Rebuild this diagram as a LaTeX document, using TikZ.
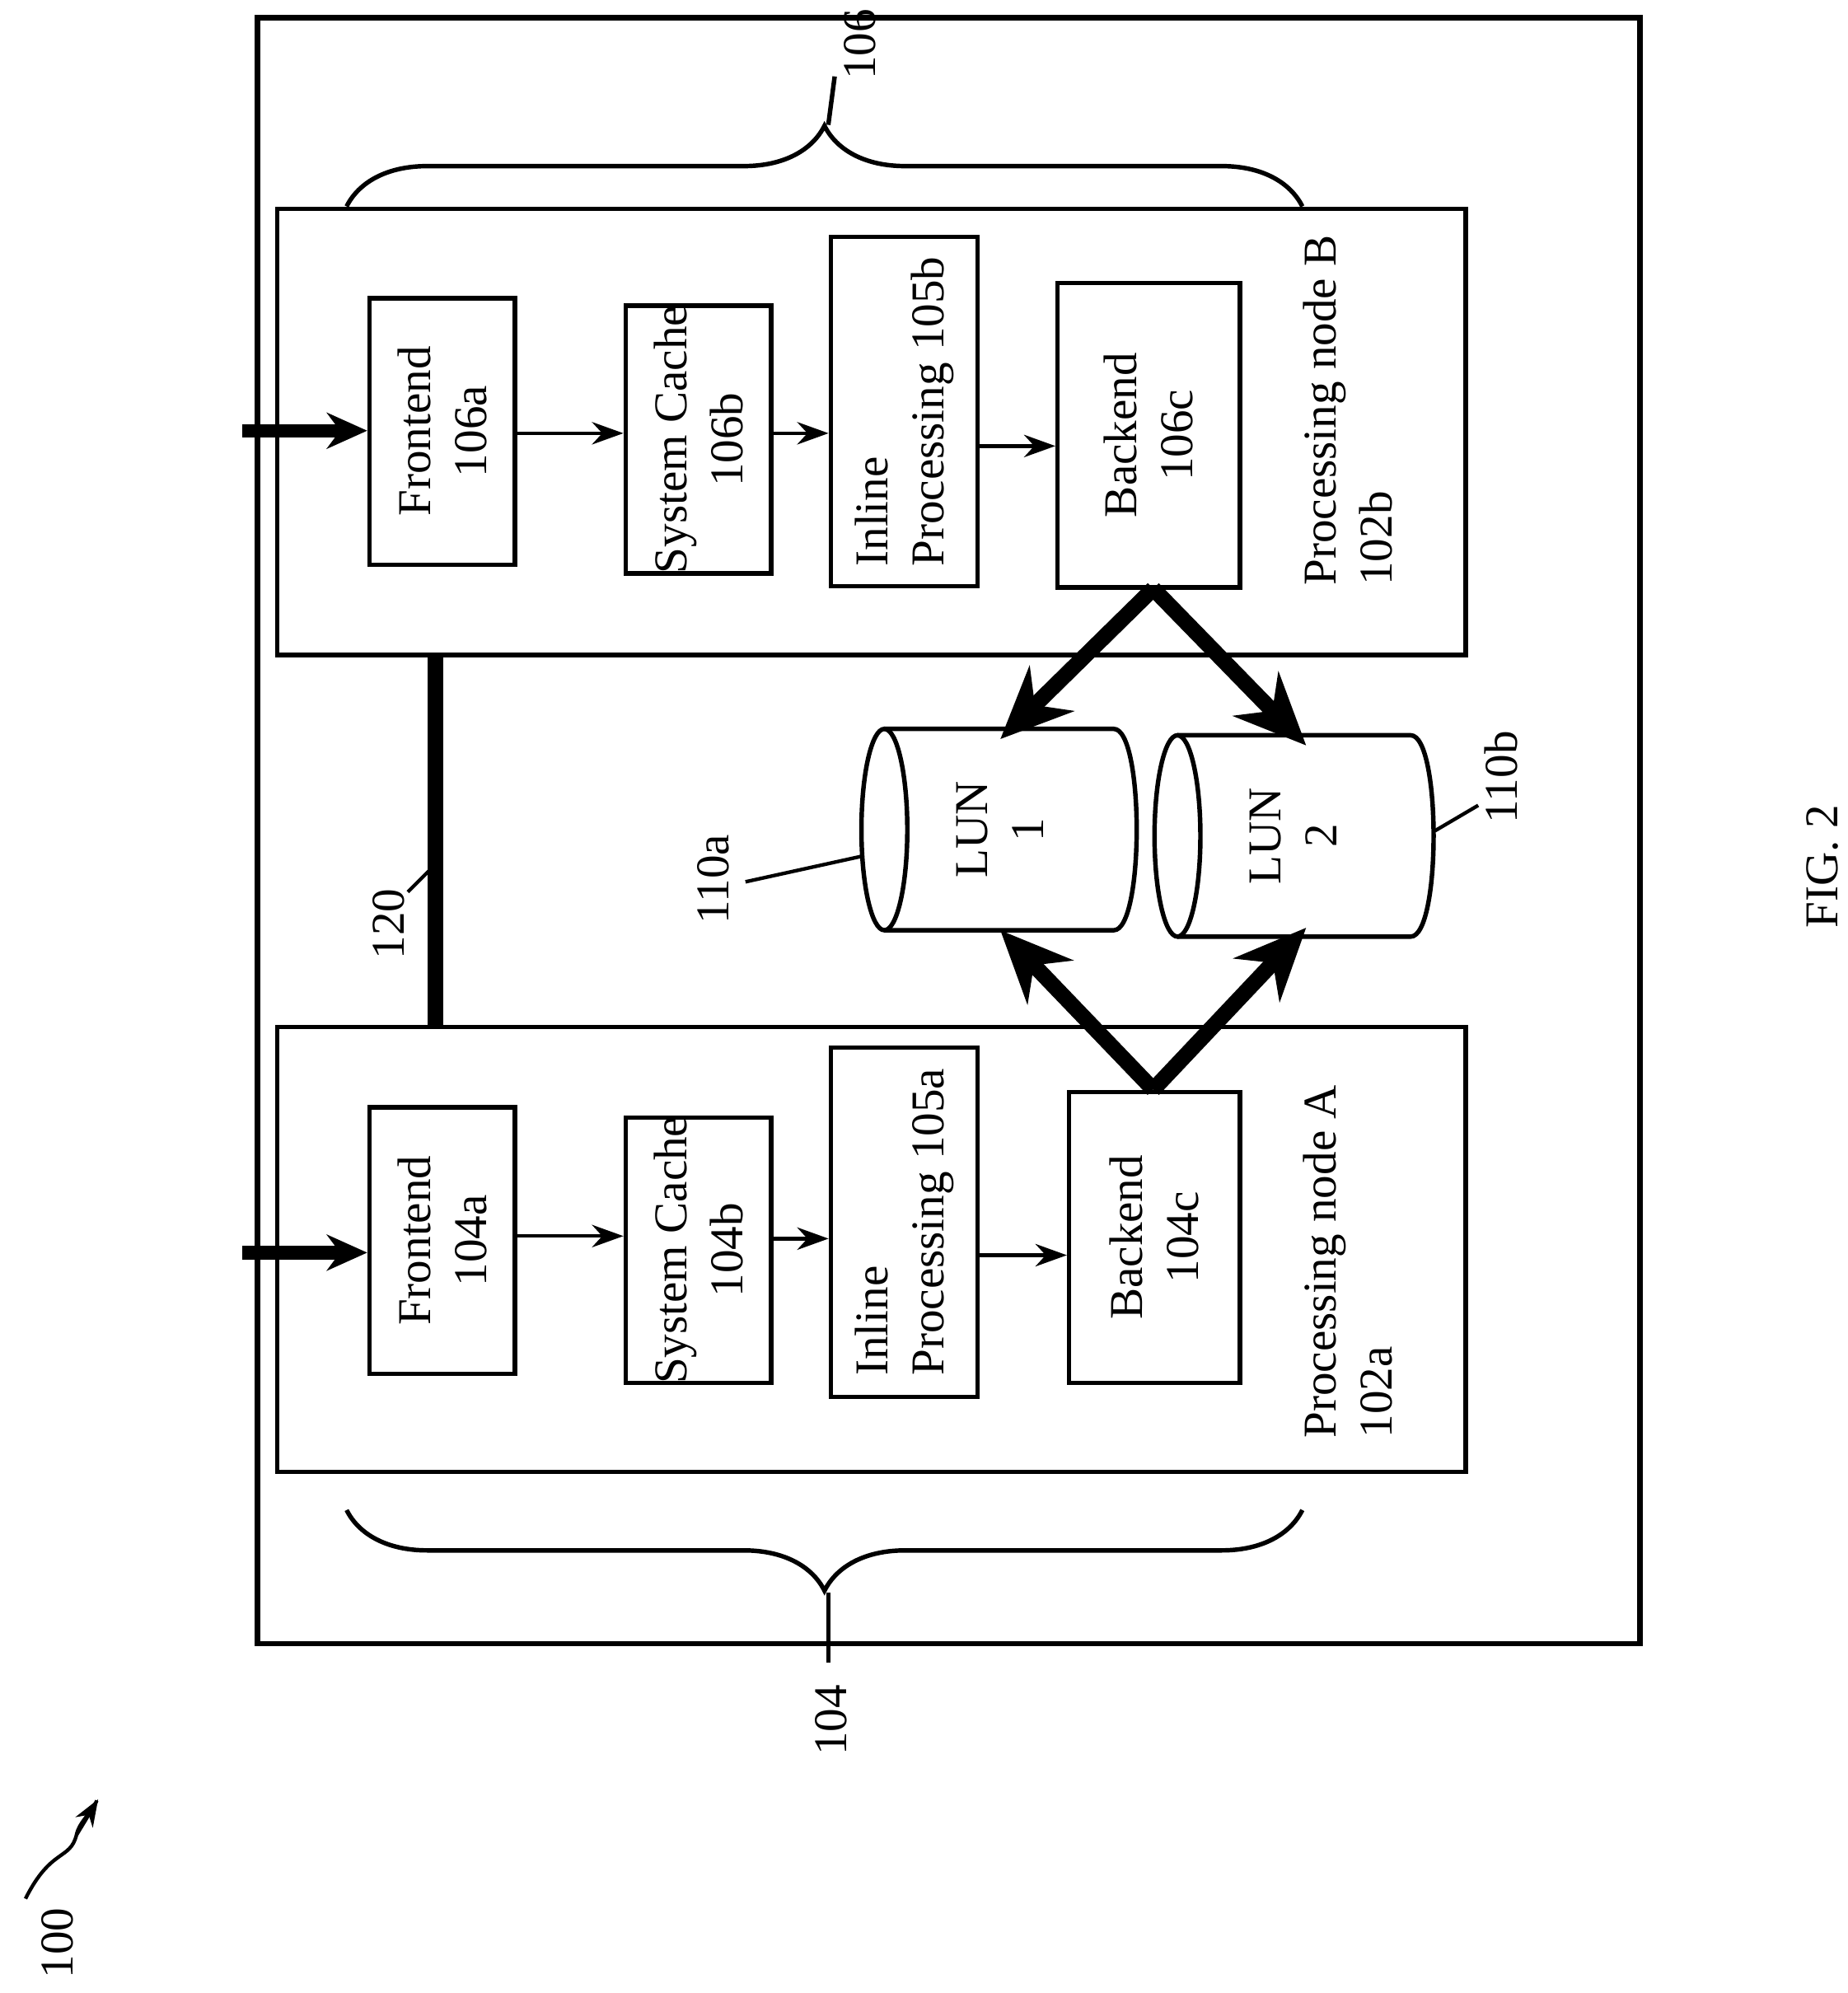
\documentclass[tikz,border=0pt]{standalone}
\usepackage{fontspec}
\setmainfont{Liberation Serif}
\usetikzlibrary{arrows.meta,decorations.pathreplacing,calc}
\begin{document}
\begin{tikzpicture}[x=0.01cm,y=-0.01cm,
  box/.style={draw,line width=1pt,inner sep=0pt},
  lbl/.style={rotate=90,font=\fontsize{10.5}{12.5}\selectfont,align=center},
  lbll/.style={rotate=90,font=\fontsize{10.5}{12.5}\selectfont,align=left},
  thin/.style={-{Stealth[length=7pt,width=5pt]},line width=0.8pt},
  big/.style={-{Stealth[length=16pt,width=14pt]},line width=3.5pt},
  inp/.style={-{Stealth[length=9pt,width=8pt]},line width=3pt}]
\useasboundingbox (0,0) rectangle (1450,1564);
\draw[line width=1.2pt] (202,14) rectangle (1287,1290);
% processing nodes
\node[box,minimum width=9.32cm,minimum height=3.5cm] (pB) at (684,339) {};
\node[box,minimum width=9.32cm,minimum height=3.49cm] (pA) at (684,980.5) {};
\node[lbll,anchor=center] at (1058,322) {Processing node B\\102b};
\node[lbll,anchor=center] at (1058,990) {Processing node A\\102a};
% B boxes
\node[box,minimum width=1.14cm,minimum height=2.09cm] (f6) at (347,338.5) {};
\node[box,minimum width=1.14cm,minimum height=2.10cm] (c6) at (548,345) {};
\node[box,minimum width=1.15cm,minimum height=2.74cm] (i5b) at (709.5,323) {};
\node[box,minimum width=1.43cm,minimum height=2.39cm] (b6) at (901.5,341.5) {};
\node[lbl] at (f6.center) {Frontend\\106a};
\node[lbl] at (c6.center) {System Cache\\106b};
\node[lbll] at (i5b.center) {Inline\\Processing 105b};
\node[lbl] at (b6.center) {Backend\\106c};
% A boxes
\node[box,minimum width=1.14cm,minimum height=2.09cm] (f4) at (347,973.5) {};
\node[box,minimum width=1.14cm,minimum height=2.08cm] (c4) at (548,981) {};
\node[box,minimum width=1.15cm,minimum height=2.74cm] (i5a) at (709.5,959) {};
\node[box,minimum width=1.34cm,minimum height=2.28cm] (b4) at (906,971) {};
\node[lbl] at (f4.center) {Frontend\\104a};
\node[lbl] at (c4.center) {System Cache\\104b};
\node[lbll] at (i5a.center) {Inline\\Processing 105a};
\node[lbl] at (b4.center) {Backend\\104c};
% flow arrows
\coordinate (inB) at (190,338);
\coordinate (inA) at (190,983);
\draw[inp] (inB) -- (inB -| f6.west);
\draw[inp] (inA) -- (inA -| f4.west);
\draw[thin] (f6.east |- 0,340) -- (c6.west |- 0,340);
\draw[thin] (c6.east |- 0,340) -- (i5b.west |- 0,340);
\draw[thin] (i5b.east |- 0,350) -- (b6.west |- 0,350);
\draw[thin] (f4.east |- 0,970) -- (c4.west |- 0,970);
\draw[thin] (c4.east |- 0,972) -- (i5a.west |- 0,972);
\draw[thin] (i5a.east |- 0,985) -- (b4.west |- 0,985);
% 120
\draw[line width=3.5pt] (pB.south -| 342,0) -- (pA.north -| 342,0);
\node[lbl] (l120) at (305,725) {120};
\draw[line width=0.8pt] (320,700) -- (342,678);
% cylinders
\draw[line width=1pt,fill=white] (694,572) -- (874,572) .. controls (898,572) and (898,730) .. (874,730) -- (694,730);
\draw[line width=1pt] (694,651) ellipse [x radius=18,y radius=79];
\node[lbl] (lun1) at (785,651) {LUN\\1};
\draw[line width=1pt,fill=white] (924,577) -- (1107,577) .. controls (1131,577) and (1131,735) .. (1107,735) -- (924,735);
\draw[line width=1pt] (924,656) ellipse [x radius=18,y radius=79];
\node[lbl] (lun2) at (1015,656) {LUN\\2};
\node[lbl] (l110a) at (560,690) {110a};
\draw[line width=0.8pt] (585,692) -- (676,672);
\node[lbl] (l110b) at (1178,610) {110b};
\draw[line width=0.8pt] (1126,652) -- (1160,632);
% big arrows
\coordinate (tB) at (905,462);
\coordinate (tA) at (905,855);
\draw[big] (tB) -- (785,580);
\draw[big] (tB) -- (1025,585);
\draw[big] (tA) -- (785,730);
\draw[big] (tA) -- (1025,728);
% braces
\draw[line width=1pt,decorate,decoration={brace,amplitude=18pt}] (272,162) -- (1022,162);
\draw[line width=1pt,decorate,decoration={brace,amplitude=18pt,mirror}] (272,1185) -- (1022,1185);
\draw[line width=1pt] (650,98) -- (655,60);
\draw[line width=1pt] (650,1250) -- (650,1305);
\node[lbl] at (675,35) {106};
\node[lbl] at (652,1350) {104};
\node[lbl] at (45,1525) {100};
\draw[line width=0.8pt] (20,1490) .. controls (40,1450) and (55,1460) .. (60,1440) .. controls (62,1430) and (70,1425) .. (76,1413);
\draw[-{Stealth[length=6pt]},line width=0.8pt] (60,1440) -- (77,1412);
\node[lbl] at (1430,680) {FIG. 2};
\end{tikzpicture}
\end{document}
